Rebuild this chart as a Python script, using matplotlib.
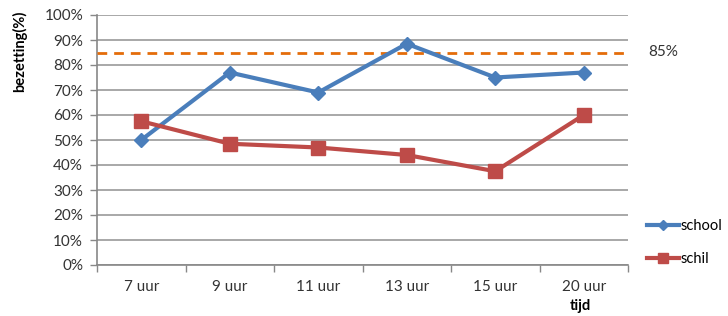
import numpy as np
import matplotlib.pyplot as plt
from matplotlib.ticker import FixedLocator, PercentFormatter

categories = ['7 uur', '9 uur', '11 uur', '13 uur', '15 uur', '20 uur']
school = [50, 77, 69, 88.5, 75, 77]
schil = [57.5, 48.5, 47, 44, 37.5, 60]
target = 85

plt.rcParams['font.family'] = ['Lato', 'DejaVu Sans']

fig = plt.figure(figsize=(7.28, 3.16), dpi=100)
ax = fig.add_axes([97 / 728, 1 - 265 / 316, (628 - 97) / 728, 250 / 316])

x = np.arange(len(categories))
ax.plot(x, school, color='#4A7EBB', lw=3, marker='D', ms=7, label='school', zorder=4)
ax.plot(x, schil, color='#BE4B48', lw=3, marker='s', ms=9.5, label='schil', zorder=4)
ax.axhline(target, color='#E46C0A', lw=2, dashes=(3.5, 2.5), zorder=3)
ax.text(1.038, target, f'{target}%', transform=ax.get_yaxis_transform(),
        va='center', ha='left', fontsize=11, color='#333333')

ax.set_xlim(-0.5, len(categories) - 0.5)
ax.set_ylim(0, 100)
ax.set_yticks(range(0, 101, 10))
ax.yaxis.set_major_formatter(PercentFormatter(decimals=0))
ax.set_xticks(x)
ax.set_xticklabels(categories)
ax.xaxis.set_minor_locator(FixedLocator(np.arange(-0.5, len(categories), 1)))
ax.tick_params(axis='x', which='major', length=0, pad=11, labelsize=11, labelcolor='#333333')
ax.tick_params(axis='x', which='minor', length=5, color='#888888', width=1)
ax.tick_params(axis='y', length=5, color='#888888', width=1, labelsize=11, labelcolor='#333333', pad=5)
ax.grid(axis='y', color='#999999', lw=1.2)
ax.set_axisbelow(True)
for s in ['top', 'right']:
    ax.spines[s].set_visible(False)
for s in ['left', 'bottom']:
    ax.spines[s].set_color('#888888')
    ax.spines[s].set_linewidth(1.2)

fig.text(20 / 728, 1 - 51 / 316, 'bezetting(%)', rotation=90, ha='center', va='center',
         fontsize=10.5, fontweight='bold')
fig.text(580 / 728, 1 - 306 / 316, 'tijd', ha='center', va='center',
         fontsize=10.5, fontweight='bold')

ax.legend(loc='center left', bbox_to_anchor=(1.025, 0.09), frameon=False,
          handlelength=2.2, handletextpad=0.1, fontsize=10.5, labelspacing=1.3,
          borderaxespad=0, markerscale=0.75)

fig.savefig('out.png', dpi=100)
